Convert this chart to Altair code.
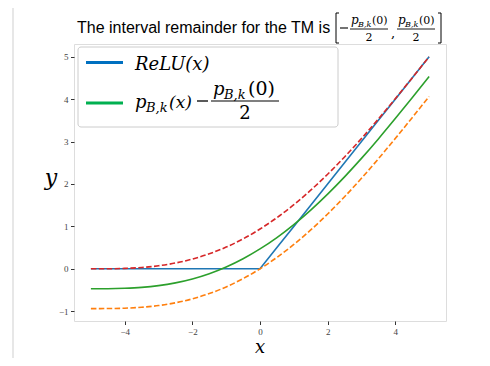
import altair as alt
import pandas as pd

# ---- data ----
x_vals = [-5.0, -4.5, -4.0, -3.5, -3.0, -2.5, -2.0, -1.5, -1.0, -0.5, 0.0,
          0.5, 1.0, 1.5, 2.0, 2.5, 3.0, 3.5, 4.0, 4.5, 5.0]
relu_vals = [0.0, 0.0, 0.0, 0.0, 0.0, 0.0, 0.0, 0.0, 0.0, 0.0, 0.0,
             0.5, 1.0, 1.5, 2.0, 2.5, 3.0, 3.5, 4.0, 4.5, 5.0]
p_vals = [0.000, 0.001, 0.010, 0.031, 0.072, 0.137, 0.230, 0.354, 0.512, 0.706, 0.938,
          1.206, 1.512, 1.854, 2.230, 2.637, 3.072, 3.531, 4.010, 4.501, 5.000]
p_half_vals = [-0.469, -0.468, -0.459, -0.438, -0.397, -0.332, -0.239, -0.115, 0.043, 0.237, 0.469,
               0.737, 1.043, 1.385, 1.761, 2.168, 2.603, 3.062, 3.541, 4.032, 4.531]
p_full_vals = [-0.938, -0.936, -0.928, -0.906, -0.866, -0.801, -0.708, -0.584, -0.426, -0.231, 0.000,
               0.269, 0.574, 0.916, 1.292, 1.699, 2.134, 2.594, 3.072, 3.564, 4.063]
x_ticks = [-4, -2, 0, 2, 4]
y_ticks = [-1, 0, 1, 2, 3, 4, 5]

title_text = "The interval remainder for the TM is"
legend_relu = "ReLU(x)"

W, H = 372, 277
MATH = "DejaVu Serif"
dummy = pd.DataFrame({"a": [0]})

axis_style = dict(title=None, grid=False, domain=False,
                  tickColor="black", tickSize=3.5, tickWidth=0.8,
                  labelFont="Liberation Serif", labelFontSize=9,
                  labelColor="#444444", labelPadding=2.5)
xenc = alt.X("x:Q", scale=alt.Scale(domain=[-5.5, 5.5], nice=False, zero=False),
             axis=alt.Axis(values=x_ticks, **axis_style))
yenc = alt.Y("y:Q", scale=alt.Scale(domain=[-1.23, 5.3], nice=False, zero=False),
             axis=alt.Axis(values=y_ticks, **axis_style))


def line(vals, color, dash=None, interp="monotone"):
    df = pd.DataFrame({"x": x_vals, "y": vals})
    kw = dict(color=color, strokeWidth=1.6, interpolate=interp, clip=True)
    if dash:
        kw["strokeDash"] = dash
    return alt.Chart(df).mark_line(**kw).encode(x=xenc, y=yenc)


def txt(s, x, y, size, italic=False, font=MATH, align="left", color="black"):
    kw = dict(text=s, fontSize=size, font=font, align=align,
              baseline="alphabetic", color=color)
    if italic:
        kw["fontStyle"] = "italic"
    return alt.Chart(dummy).mark_text(**kw).encode(x=alt.value(x), y=alt.value(y))


def hrule(x1, x2, y, color="black", w=1.0):
    return alt.Chart(dummy).mark_rule(color=color, strokeWidth=w).encode(
        x=alt.value(x1), x2=alt.value(x2), y=alt.value(y))


def vrule(x, y1, y2, color="black", w=1.0):
    return alt.Chart(dummy).mark_rule(color=color, strokeWidth=w).encode(
        x=alt.value(x), y=alt.value(y1), y2=alt.value(y2))


layers = [
    line(relu_vals, "#1f77b4", interp="linear"),
    line(p_full_vals, "#ff7f0e", dash=[5.5, 2.4]),
    line(p_half_vals, "#2ca02c"),
    line(p_vals, "#d62728", dash=[5.5, 2.4]),
]

# legend box
layers.append(alt.Chart(dummy).mark_rect(fill="white", stroke="#cccccc", strokeWidth=1,
                                         cornerRadius=3).encode(
    x=alt.value(4), x2=alt.value(264), y=alt.value(3), y2=alt.value(83)))
layers.append(hrule(12, 49, 18.5, color="#0070C0", w=3))
layers.append(hrule(12, 49, 59, color="#00B050", w=3))
layers.append(txt(legend_relu, 61, 26, 18, italic=True))
# p_{B,k}(x) - p_{B,k}(0)/2
layers.append(txt("p", 61, 64, 18, italic=True))
layers.append(txt("B,k", 72, 68, 13, italic=True))
layers.append(txt("(x)", 95, 64, 17, italic=True))
layers.append(hrule(123, 134, 57, w=1.3))
layers.append(txt("p", 139, 51, 18, italic=True))
layers.append(txt("B,k", 150, 55, 13, italic=True))
layers.append(txt("(0)", 174, 51, 19))
layers.append(hrule(137, 205, 57, w=1.2))
layers.append(txt("2", 171, 75, 18, align="center"))

# title
layers.append(txt(title_text, 3, -11, 16, font="Liberation Sans"))
# [ - p/2 , p/2 ]
layers.append(vrule(262, -31, -1))
layers.append(hrule(262, 265, -31))
layers.append(hrule(262, 265, -1))
layers.append(hrule(266, 274, -16, w=1.1))
for x0 in (277, 324):
    layers.append(txt("p", x0, -20, 12, italic=True))
    layers.append(txt("B,k", x0 + 7, -17, 8, italic=True))
    layers.append(txt("(0)", x0 + 21, -20, 11))
    layers.append(hrule(x0 - 1, x0 + 37, -15, w=0.9))
    layers.append(txt("2", x0 + 18, -3, 11, align="center"))
layers.append(txt(",", 317, -7, 13))
layers.append(vrule(367, -31, -1))
layers.append(hrule(364, 367, -31))
layers.append(hrule(364, 367, -1))

# axis titles
layers.append(txt("y", -23, 141, 22, italic=True, align="center"))
layers.append(txt("x", 186, 309, 18, italic=True, align="center"))

# surrounding gray frame lines
layers.append(vrule(-61, -36, 314, color="#cfcfcf"))

chart = alt.layer(*layers).properties(
    width=W, height=H,
    padding={"left": 66, "top": 36, "right": 30, "bottom": 37},
    autosize=alt.AutoSizeParams(type="none"),
).configure_view(stroke="black", strokeWidth=1).configure(background="white")

chart.save("out.html", embed_options={"renderer": "svg", "actions": False})
